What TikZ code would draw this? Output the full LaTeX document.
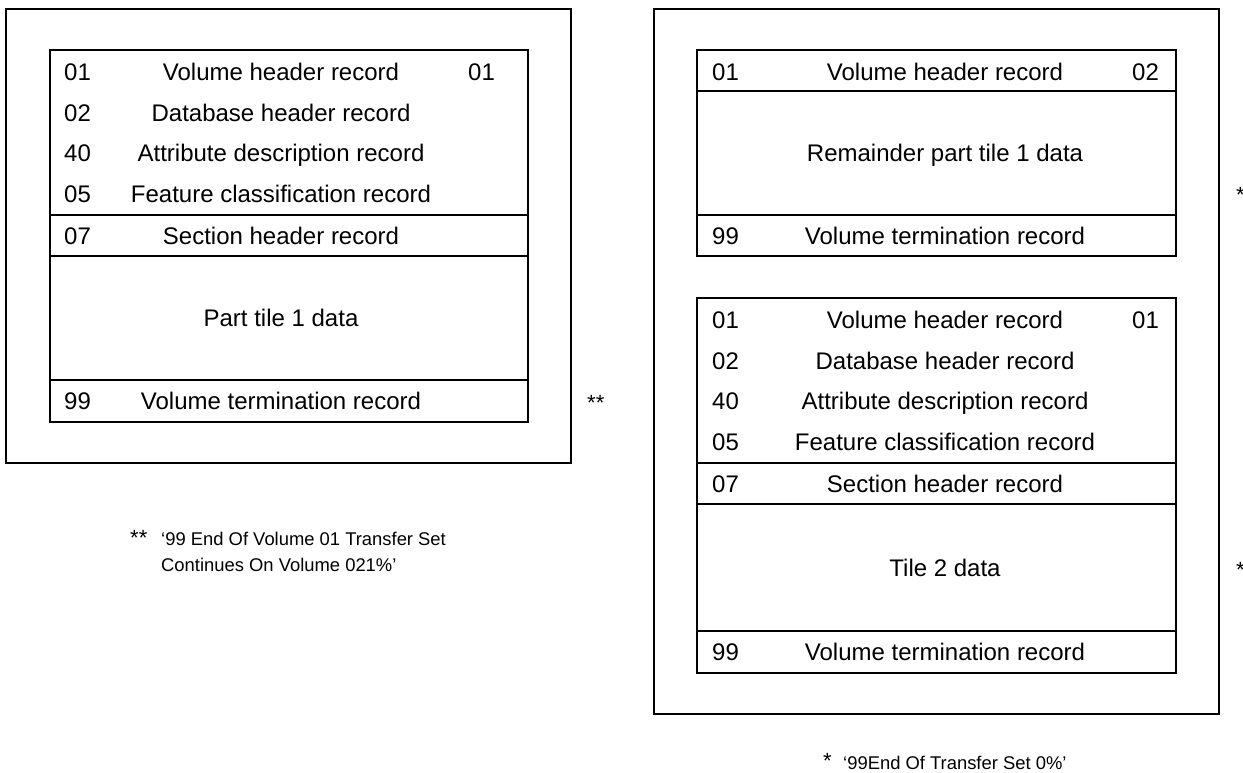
\documentclass[tikz,border=0pt]{standalone}
\usepackage{fontspec}
\setmainfont{Liberation Sans}
\begin{document}
\begin{tikzpicture}[x=1pt,y=-1pt,
  box/.style={draw, line width=2pt, anchor=north west, inner sep=0pt, outer sep=0pt},
  rowtxt/.style={inner sep=0pt, text height=17pt, text depth=0pt, font=\fontsize{24}{28}\selectfont},
  num/.style={rowtxt, anchor=west},
  desc/.style={rowtxt, anchor=center},
  starmark/.style={inner sep=0pt, anchor=base west, font=\fontsize{22}{26}\selectfont},
  foot/.style={inner sep=0pt, anchor=base west, font=\fontsize{18.4}{22}\selectfont}]
\useasboundingbox (0,0) rectangle (1243,772);

% ---------- left volume ----------
\node[box, minimum width=565pt, minimum height=454pt] (OL) at (6,9) {};
\node[box, minimum width=478pt, minimum height=165pt] (L1) at (50,50) {};
\node[box, minimum width=478pt, minimum height=41pt]  (L2) at (50,215) {};
\node[box, minimum width=478pt, minimum height=124pt] (L3) at (50,256) {};
\node[box, minimum width=478pt, minimum height=42pt]  (L4) at (50,380) {};

\node[num]  (l1n) at (64,71.5)  {01};
\node[desc] (l1d) at (281,71.5) {Volume header record};
\node[num]  (l1v) at (468,71.5) {01};
\node[num]  (l2n) at (64,112.5)  {02};
\node[desc] (l2d) at (281,112.5) {Database header record};
\node[num]  (l3n) at (64,153)  {40};
\node[desc] (l3d) at (281,153) {Attribute description record};
\node[num]  (l4n) at (64,194)  {05};
\node[desc] (l4d) at (281,194) {Feature classification record};
\node[num]  (l5n) at (64,235.5)  {07};
\node[desc] (l5d) at (281,235.5) {Section header record};
\node[desc] (l6d) at (281,318) {Part tile 1 data};
\node[num]  (l7n) at (64,401)  {99};
\node[desc] (l7d) at (281,401) {Volume termination record};

\node[starmark] (s2) at (587,410) {**};

% ---------- right volume ----------
\node[box, minimum width=565pt, minimum height=705pt] (OR) at (654,9) {};
\node[box, minimum width=479pt, minimum height=41pt]  (R1) at (697,50) {};
\node[box, minimum width=479pt, minimum height=124pt] (R2) at (697,91) {};
\node[box, minimum width=479pt, minimum height=41pt]  (R3) at (697,215) {};

\node[num]  (r1n) at (712,71.5)  {01};
\node[desc] (r1d) at (945,71.5)  {Volume header record};
\node[num]  (r1v) at (1132,71.5) {02};
\node[desc] (r2d) at (945,153)   {Remainder part tile 1 data};
\node[num]  (r3n) at (712,235.5) {99};
\node[desc] (r3d) at (945,235.5) {Volume termination record};

\node[box, minimum width=479pt, minimum height=165pt] (S1) at (697,298) {};
\node[box, minimum width=479pt, minimum height=41pt]  (S2) at (697,463) {};
\node[box, minimum width=479pt, minimum height=127pt] (S3) at (697,504) {};
\node[box, minimum width=479pt, minimum height=42pt]  (S4) at (697,631) {};

\node[num]  (t1n) at (712,319.5)  {01};
\node[desc] (t1d) at (945,319.5)  {Volume header record};
\node[num]  (t1v) at (1132,319.5) {01};
\node[num]  (t2n) at (712,360.5)  {02};
\node[desc] (t2d) at (945,360.5)  {Database header record};
\node[num]  (t3n) at (712,401)  {40};
\node[desc] (t3d) at (945,401)  {Attribute description record};
\node[num]  (t4n) at (712,442)  {05};
\node[desc] (t4d) at (945,442)  {Feature classification record};
\node[num]  (t5n) at (712,483.5)  {07};
\node[desc] (t5d) at (945,483.5)  {Section header record};
\node[desc] (t6d) at (945,568)  {Tile 2 data};
\node[num]  (t7n) at (712,652)  {99};
\node[desc] (t7d) at (945,652)  {Volume termination record};

\node[starmark] (s1a) at (1236,202) {*};
\node[starmark] (s1b) at (1236,577) {*};

% ---------- footnotes ----------
\node[starmark] (f2s) at (130,545) {**};
\node[foot] (f2a) at (161,545) {‘99 End Of Volume 01 Transfer Set};
\node[foot] (f2b) at (161,571) {Continues On Volume 021\%’};

\node[starmark] (f1s) at (823,768) {*};
\node[foot] (f1a) at (843,769) {‘99End Of Transfer Set 0\%’};
\end{tikzpicture}
\end{document}
